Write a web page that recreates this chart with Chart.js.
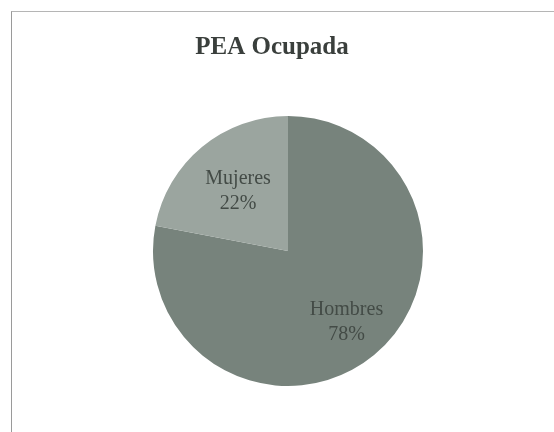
<!DOCTYPE html>
<html>
<head>
<meta charset="utf-8">
<script src="https://cdn.jsdelivr.net/npm/chart.js@4.4.0/dist/chart.umd.min.js"></script>
<style>
  html, body { margin: 0; padding: 0; background: #fff; overflow: hidden; }
  body { width: 554px; height: 432px; position: relative; }
  #marco {
    position: absolute; left: 11px; top: 11px; width: 600px; height: 500px;
    border-left: 1px solid #9a9a9a; border-top: 1px solid #b5b5b5;
  }
  #caja { position: absolute; left: 12px; top: 12px; width: 520px; height: 420px; }
</style>
</head>
<body>
<div id="marco"></div>
<div id="caja"><canvas id="graficoPEA"></canvas></div>
<script>
const titulo = 'PEA Ocupada';
const categorias = ['Hombres', 'Mujeres'];
const porcentajes = [78, 22];
const colores = ['#77837c', '#9ba59f'];

const fuente = '"Liberation Serif", "DejaVu Serif", serif';

// título centrado sobre todo el lienzo (no sobre el área del gráfico)
const tituloCentrado = {
    id: 'tituloCentrado',
    afterDraw(chart) {
        const { ctx } = chart;
        ctx.save();
        ctx.fillStyle = '#3a3f3c';
        ctx.font = 'bold 25px ' + fuente;
        ctx.textAlign = 'center';
        ctx.textBaseline = 'middle';
        ctx.fillText(titulo, chart.width / 2, 36);
        ctx.restore();
    }
};

// etiquetas dentro de cada porción (nombre + porcentaje)
const etiquetas = {
    id: 'etiquetas',
    afterDatasetsDraw(chart) {
        const { ctx } = chart;
        const meta = chart.getDatasetMeta(0);
        const fracs = [0.68, 0.58];
        ctx.save();
        ctx.fillStyle = '#434b46';
        ctx.font = '20px ' + fuente;
        ctx.textAlign = 'center';
        ctx.textBaseline = 'middle';
        meta.data.forEach((arc, i) => {
            const p = arc.getProps(['x', 'y', 'startAngle', 'endAngle', 'outerRadius'], true);
            const mid = (p.startAngle + p.endAngle) / 2;
            const r = p.outerRadius * fracs[i];
            const x = p.x + Math.cos(mid) * r;
            const y = p.y + Math.sin(mid) * r;
            ctx.fillText(categorias[i], x, y - 12);
            ctx.fillText(porcentajes[i] + '%', x, y + 13);
        });
        ctx.restore();
    }
};

new Chart(document.getElementById('graficoPEA'), {
    type: 'pie',
    data: {
        labels: categorias,
        datasets: [{
            data: porcentajes,
            backgroundColor: colores,
            borderWidth: 0
        }]
    },
    options: {
        responsive: true,
        maintainAspectRatio: false,
        animation: false,
        layout: { padding: { left: 32, right: 0, top: 104, bottom: 46 } },
        plugins: {
            legend: { display: false },
            tooltip: { enabled: false },
            title: { display: false }
        }
    },
    plugins: [etiquetas, tituloCentrado]
});
</script>
</body>
</html>
